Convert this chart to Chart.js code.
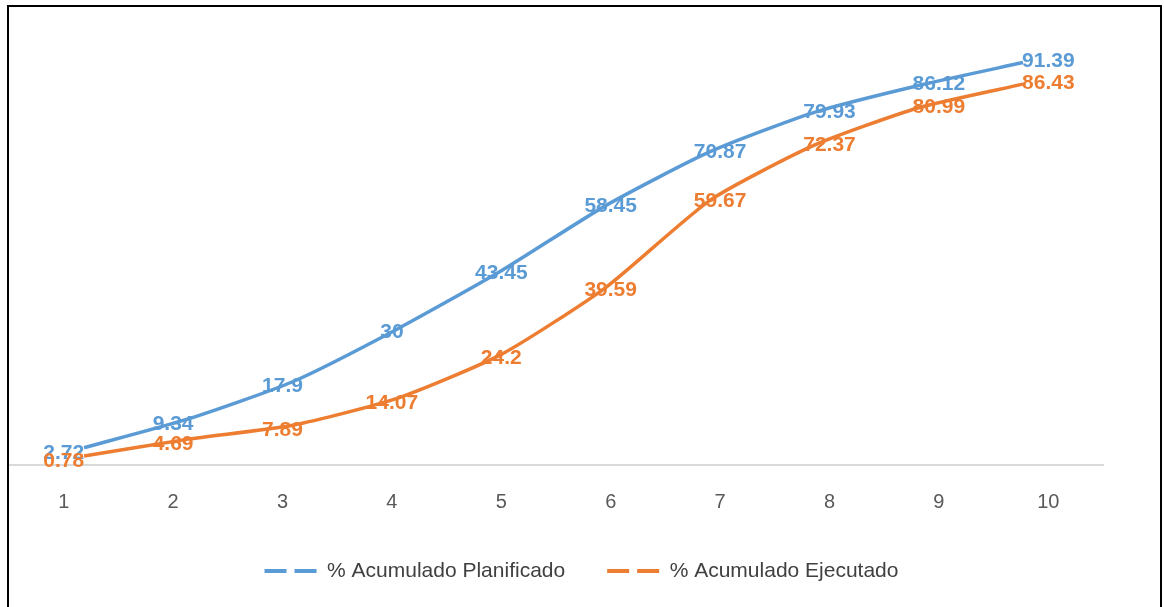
<!DOCTYPE html>
<html>
<head>
<meta charset="utf-8">
<script src="https://cdn.jsdelivr.net/npm/chart.js@4/dist/chart.umd.min.js"></script>
<style>
  html, body { margin: 0; padding: 0; background: #fff; }
  #wrap { position: relative; width: 1164px; height: 607px; overflow: hidden; }
  #marco { position: absolute; left: 7px; top: 5px; width: 1151px; height: 640px; border: 2.5px solid #000; pointer-events: none; }
</style>
</head>
<body>
<div id="wrap">
  <canvas id="grafico" width="1164" height="607"></canvas>
  <div id="marco"></div>
</div>
<script>
// ── Datos ─────────────────────────────────────────
const periodos    = ['1', '2', '3', '4', '5', '6', '7', '8', '9', '10'];
const planificado = [2.72, 9.34, 17.9, 30, 43.45, 58.45, 70.87, 79.93, 86.12, 91.39];
const ejecutado   = [0.78, 4.69, 7.89, 14.07, 24.2, 39.59, 59.67, 72.37, 80.99, 86.43];

const AZUL    = '#5B9BD5';
const NARANJA = '#ED7D31';

// etiquetas de datos (sin plugin externo)
const etiquetas = {
  id: 'etiquetas',
  afterDatasetsDraw(chart) {
    const { ctx, scales } = chart;
    ctx.save();
    ctx.font = 'bold 21px "Liberation Sans", Arial, sans-serif';
    ctx.textAlign = 'center';
    ctx.textBaseline = 'middle';
    chart.data.datasets.forEach(ds => {
      ctx.fillStyle = ds.borderColor;
      ds.valores.forEach((v, i) => {
        ctx.fillText(String(v), scales.x.getPixelForValue(i), scales.y.getPixelForValue(v));
      });
    });
    ctx.restore();
  }
};

const serie = (nombre, valores, color) => ({
  label: nombre,
  valores,
  data: valores.map((v, i) => ({ x: i + 1, y: v })),
  xAxisID: 'xp', yAxisID: 'yp',
  borderColor: color, backgroundColor: color,
  borderWidth: 3.5, tension: 0.2,
  pointRadius: 0, fill: false,
});

new Chart(document.getElementById('grafico').getContext('2d'), {
  type: 'line',
  data: {
    labels: periodos,
    datasets: [
      serie('% Acumulado Planificado', planificado, AZUL),
      serie('% Acumulado Ejecutado', ejecutado, NARANJA),
    ],
  },
  options: {
    responsive: false, animation: false,
    layout: { padding: { left: 9, right: 10, top: 23, bottom: 15.5 } },
    plugins: {
      legend: {
        position: 'bottom',
        labels: {
          color: '#404040', font: { family: '"Liberation Sans", Arial', size: 21 },
          usePointStyle: true, pointStyleWidth: 52, padding: 42,
          generateLabels: chart => chart.data.datasets.map((ds, i) => ({
            text: ds.label, datasetIndex: i,
            fillStyle: ds.borderColor, strokeStyle: ds.borderColor,
            lineWidth: 4, lineDash: [22, 8], pointStyle: 'line', fontColor: '#404040',
          })),
        },
      },
      tooltip: { enabled: false },
    },
    scales: {
      x: {
        type: 'category', offset: true,
        grid: { display: false },
        border: { color: '#d9d9d9', width: 2 },
        ticks: { color: '#595959', font: { family: '"Liberation Sans", Arial', size: 20 }, padding: 17 },
        afterFit: s => { s.height = 53.5; },
      },
      y: { display: false, min: 0, max: 100 },
      xp: { type: 'linear', display: false, min: 0.281, max: 10.767 },
      // eje invisible a la derecha, solo reserva el margen
      yp: {
        type: 'linear', position: 'right', min: -1.27, max: 100.5,
        grid: { display: false }, border: { display: false }, ticks: { display: false },
        afterFit: s => { s.width = 51; },
      },
    },
  },
  plugins: [etiquetas],
});
</script>
</body>
</html>
